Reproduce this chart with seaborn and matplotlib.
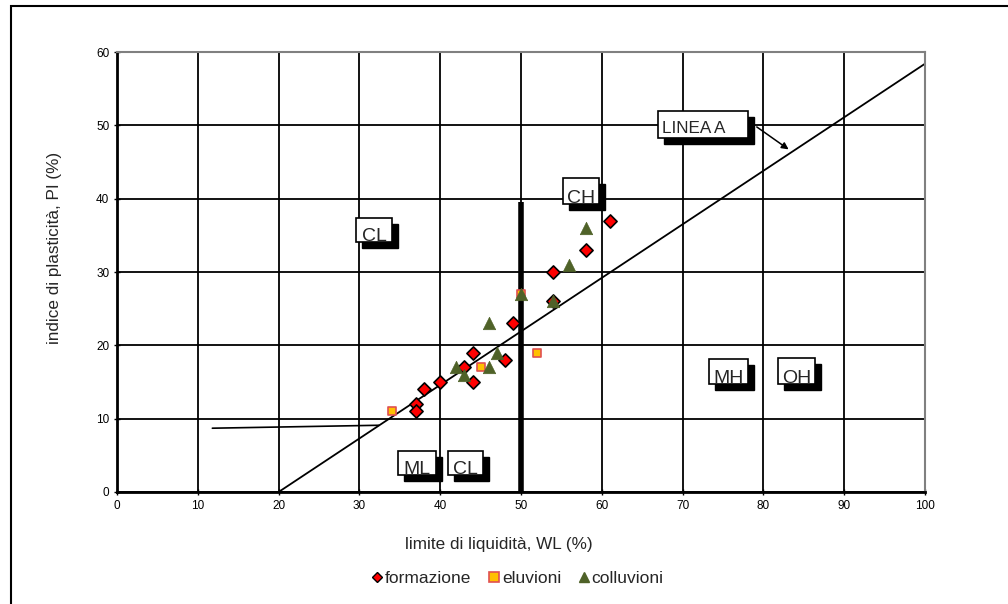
import numpy as np
import pandas as pd
import seaborn as sns
import matplotlib.pyplot as plt
from matplotlib.patches import Rectangle

# dati (WL, PI)
formazione_wl = [61, 58, 54, 54, 49, 44, 48, 43, 44, 40, 38, 37, 37]
formazione_pi = [37, 33, 30, 26, 23, 19, 18, 17, 15, 15, 14, 12, 11]
eluvioni_wl = [50, 52, 45, 34]
eluvioni_pi = [27, 19, 17, 11]
colluvioni_wl = [58, 56, 50, 54, 46, 47, 42, 46, 43]
colluvioni_pi = [36, 31, 27, 26, 23, 19, 17, 17, 16]

# linea A e linee di separazione
linea_a_x = [20, 100]
linea_a_y = [0, 58.4]
orizz_x = [11.8, 32.4]
orizz_y = [8.7, 9.1]
vert_x = [50, 50]
vert_y = [0, 39.5]

# etichette zone
zone_labels = ['CL', 'CH', 'ML', 'CL', 'MH', 'OH', 'LINEA A']
zone_x = [31.8, 57.4, 37.1, 43.1, 75.7, 84.1, 72.5]
zone_y = [35.7, 41.0, 3.95, 3.95, 16.4, 16.5, 50.1]

sns.set_style('white')
plt.rcParams['font.family'] = ['Liberation Sans', 'DejaVu Sans']

fig = plt.figure(figsize=(10.08, 6.04), dpi=100)
ax = fig.add_axes([117 / 1008, 1 - 492 / 604, 808 / 1008, 440 / 604])

# cornice esterna
fig.add_artist(Rectangle((11 / 1008, -0.1), 1.2, 1.1 - 6 / 604, transform=fig.transFigure,
                         fill=False, edgecolor='black', linewidth=1.5))

ax.set_xlim(0, 100)
ax.set_ylim(0, 60)
ax.set_xticks(np.arange(0, 101, 10))
ax.set_yticks(np.arange(0, 61, 10))
ax.grid(True, color='black', linewidth=1.3)
ax.set_axisbelow(True)
for s in ['top', 'right']:
    ax.spines[s].set_color('#808080')
    ax.spines[s].set_linewidth(1.5)
for s in ['left', 'bottom']:
    ax.spines[s].set_color('black')
    ax.spines[s].set_linewidth(2)
ax.tick_params(axis='both', labelsize=8.5, length=4, width=1, direction='inout',
               left=True, bottom=True, colors='black')

ax.plot(linea_a_x, linea_a_y, color='black', linewidth=1.3)
ax.plot(orizz_x, orizz_y, color='black', linewidth=1.2)
ax.plot(vert_x, vert_y, color='black', linewidth=4, solid_capstyle='butt')

df_f = pd.DataFrame({'wl': formazione_wl, 'pi': formazione_pi})
df_e = pd.DataFrame({'wl': eluvioni_wl, 'pi': eluvioni_pi})
df_c = pd.DataFrame({'wl': colluvioni_wl, 'pi': colluvioni_pi})

sns.scatterplot(data=df_f, x='wl', y='pi', ax=ax, marker='D', s=45, color='#FF0000',
                edgecolor='black', linewidth=1.2, label='formazione', zorder=3, legend=False)
sns.scatterplot(data=df_e, x='wl', y='pi', ax=ax, marker='s', s=32, color='#FFC000',
                edgecolor='#E05050', linewidth=1.2, label='eluvioni', zorder=4, legend=False)
sns.scatterplot(data=df_c, x='wl', y='pi', ax=ax, marker='^', s=80, color='#4F6228',
                edgecolor='#4F6228', linewidth=0.5, label='colluvioni', zorder=5, legend=False)

ax.set_xlabel('')
ax.set_ylabel('')
fig.text(499 / 1008, 1 - 545 / 604, 'limite di liquidità, WL (%)', fontsize=12.3,
         ha='center', va='center')
fig.text(55 / 1008, 1 - 248 / 604, 'indice di plasticità, PI (%)', fontsize=12.3,
         ha='center', va='center', rotation=90)

# riquadri con ombra (dimensioni in pixel)
px_x = 808 / 100
px_y = 440 / 60
box_w = [36, 36, 38, 35, 39, 37, 90]
box_h = [24, 26, 24, 24, 25, 26, 27]

for lab, zx, zy, bw, bh in zip(zone_labels, zone_x, zone_y, box_w, box_h):
    w = bw / px_x
    h = bh / px_y
    ax.add_patch(Rectangle((zx - w / 2 + 6 / px_x, zy - h / 2 - 6 / px_y), w, h,
                           facecolor='black', edgecolor='black', zorder=6))
    ax.add_patch(Rectangle((zx - w / 2, zy - h / 2), w, h, facecolor='white',
                           edgecolor='black', linewidth=1.2, zorder=7))
    if lab == 'LINEA A':
        ax.text(zx - w / 2 + 4 / px_x, zy - h / 2 + 5 / px_y, lab, fontsize=12.3,
                ha='left', va='baseline', zorder=8)
    else:
        ax.text(zx, zy - h / 2 + 1.5 / px_y, lab, fontsize=14, ha='center',
                va='baseline', zorder=8)

ax.annotate('', xy=(83.4, 46.5), xytext=(78.9, 50.0),
            arrowprops=dict(arrowstyle='-|>', color='black', lw=1.1, mutation_scale=10), zorder=8)

handles = [
    plt.Line2D([], [], marker='D', linestyle='none', markersize=5.5, markerfacecolor='#FF0000',
               markeredgecolor='black', markeredgewidth=1),
    plt.Line2D([], [], marker='s', linestyle='none', markersize=7, markerfacecolor='#FFC000',
               markeredgecolor='#E05050', markeredgewidth=1.2),
    plt.Line2D([], [], marker='^', linestyle='none', markersize=7, markerfacecolor='#4F6228',
               markeredgecolor='#4F6228'),
]
fig.legend(handles, ['formazione', 'eluvioni', 'colluvioni'], loc='center',
           bbox_to_anchor=(517 / 1008, 1 - 578 / 604), ncol=3, frameon=False,
           fontsize=12.5, handletextpad=0.05, columnspacing=0.9, handlelength=0.8)

fig.savefig('out.png', dpi=100)
